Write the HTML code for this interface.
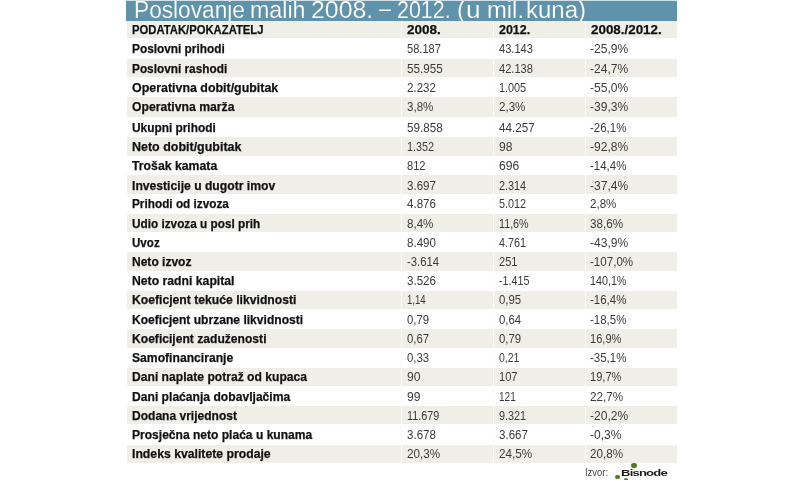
<!DOCTYPE html><html lang="hr"><head><meta charset="utf-8"><title>Poslovanje malih 2008. – 2012.</title><style>
html,body{margin:0;padding:0;background:#fff;overflow:hidden}
#wrap{position:relative;width:800px;height:480px;overflow:hidden;background:#fff;font-family:"Liberation Sans",sans-serif}
.title{position:absolute;left:126px;top:0;width:551px;height:21px;background:#5f92ab;border-top:1px solid #d3e2e9;box-sizing:border-box;overflow:hidden}
.title span{position:absolute;top:-4.2px;-webkit-text-stroke:0.15px #5f92ab;font-size:23px;line-height:26px;color:#fff;white-space:nowrap;transform-origin:0 50%;transform:scaleX(0.9944);letter-spacing:0}
.band{position:absolute;left:127px;width:550px;background:#f0efe7}
.sep{position:absolute;top:21px;height:442px;width:1px;background:#fbfbf8}
.row{position:absolute;left:0;width:800px;height:16px;line-height:16px;white-space:nowrap}
.row span{position:absolute;top:0;transform-origin:0 50%;white-space:pre}
.l{left:131.8px;font-weight:bold;font-size:12.6px;color:#111;-webkit-text-stroke:0.25px #111}
.v{font-size:13.5px;color:#3a3a3a;transform:scaleX(0.86)}
.h{font-weight:bold;font-size:12.6px;color:#111;-webkit-text-stroke:0.25px #111}
.c1{left:406.9px}.c2{left:498.6px}.c3{left:590.4px}
.src{position:absolute;left:585px;top:464px;font-size:11px;line-height:16px;color:#444;transform-origin:0 50%;transform:scaleX(.855);white-space:nowrap}
.logo{position:absolute;left:620.6px;top:466px;font-size:9.3px;line-height:14px;font-weight:bold;color:#1a1a1a;transform-origin:0 50%;transform:scaleX(1.40);letter-spacing:-0.55px;white-space:nowrap}
.dot{position:absolute;border-radius:50%;background:#4f7c1f}
</style></head><body><div id="wrap">
<div class="title"><span style="left:8.03px;transform:scaleX(0.986)">Poslovanje</span> <span style="left:124.23px;transform:scaleX(1.010)">malih</span> <span style="left:184.72px;transform:scaleX(1.080)">2008.</span> <span style="top:-5.7px;left:252.80px;transform:scaleX(0.938)">–</span> <span style="left:271.37px;transform:scaleX(0.931)">2012.</span> <span style="left:330.73px;transform:scaleX(1.067)">(</span><span style="left:340.12px;transform:scaleX(1.140)">u</span> <span style="left:361.23px;transform:scaleX(1.034)">mil.</span> <span style="left:400.21px;transform:scaleX(1.043)">kuna)</span></div>
<div class="band" style="top:21px;height:17px"></div>
<div class="band" style="top:59px;height:18px"></div>
<div class="band" style="top:97px;height:20px"></div>
<div class="band" style="top:137px;height:19px"></div>
<div class="band" style="top:175px;height:19px"></div>
<div class="band" style="top:214px;height:18px"></div>
<div class="band" style="top:252px;height:19px"></div>
<div class="band" style="top:291px;height:18px"></div>
<div class="band" style="top:329px;height:19px"></div>
<div class="band" style="top:368px;height:18px"></div>
<div class="band" style="top:406px;height:18px"></div>
<div class="band" style="top:445px;height:18px"></div>
<div class="sep" style="left:401px"></div>
<div class="sep" style="left:493px"></div>
<div class="sep" style="left:585px"></div>
<div class="row" style="top:22.30px"><span class="l" style="transform:scaleX(0.895)">PODATAK/POKAZATELJ</span><span class="h" style="left:407.3px;transform:scaleX(1.075)">2008.</span><span class="h" style="left:498.8px;transform:scaleX(0.989)">2012.</span><span class="h" style="left:590.8px;transform:scaleX(1.063)">2008./2012.</span></div>
<div class="row" style="top:41.30px"><span class="l" style="transform:scaleX(0.940)">Poslovni prihodi</span><span class="v c1" style="transform:scaleX(0.821)">58.187</span><span class="v c2" style="transform:scaleX(0.821)">43.143</span><span class="v c3" style="transform:scaleX(0.892)">-25,9%</span></div>
<div class="row" style="top:61.30px"><span class="l" style="transform:scaleX(0.938)">Poslovni rashodi</span><span class="v c1" style="transform:scaleX(0.863)">55.955</span><span class="v c2" style="transform:scaleX(0.821)">42.138</span><span class="v c3" style="transform:scaleX(0.892)">-24,7%</span></div>
<div class="row" style="top:80.30px"><span class="l" style="transform:scaleX(0.986)">Operativna dobit/gubitak</span><span class="v c1" style="transform:scaleX(0.855)">2.232</span><span class="v c2" style="transform:scaleX(0.803)">1.005</span><span class="v c3" style="transform:scaleX(0.892)">-55,0%</span></div>
<div class="row" style="top:99.30px"><span class="l" style="transform:scaleX(0.969)">Operativna marža</span><span class="v c1" style="transform:scaleX(0.858)">3,8%</span><span class="v c2" style="transform:scaleX(0.858)">2,3%</span><span class="v c3" style="transform:scaleX(0.892)">-39,3%</span></div>
<div class="row" style="top:120.30px"><span class="l" style="transform:scaleX(0.942)">Ukupni prihodi</span><span class="v c1" style="transform:scaleX(0.863)">59.858</span><span class="v c2" style="transform:scaleX(0.863)">44.257</span><span class="v c3" style="transform:scaleX(0.851)">-26,1%</span></div>
<div class="row" style="top:139.30px"><span class="l" style="transform:scaleX(0.990)">Neto dobit/gubitak</span><span class="v c1" style="transform:scaleX(0.803)">1.352</span><span class="v c2" style="transform:scaleX(0.898)">98</span><span class="v c3" style="transform:scaleX(0.892)">-92,8%</span></div>
<div class="row" style="top:158.30px"><span class="l" style="transform:scaleX(0.974)">Trošak kamata</span><span class="v c1" style="transform:scaleX(0.821)">812</span><span class="v c2" style="transform:scaleX(0.899)">696</span><span class="v c3" style="transform:scaleX(0.851)">-14,4%</span></div>
<div class="row" style="top:178.30px"><span class="l" style="transform:scaleX(0.965)">Investicije u dugotr imov</span><span class="v c1" style="transform:scaleX(0.855)">3.697</span><span class="v c2" style="transform:scaleX(0.803)">2.314</span><span class="v c3" style="transform:scaleX(0.892)">-37,4%</span></div>
<div class="row" style="top:196.30px"><span class="l" style="transform:scaleX(0.936)">Prihodi od izvoza</span><span class="v c1" style="transform:scaleX(0.855)">4.876</span><span class="v c2" style="transform:scaleX(0.803)">5.012</span><span class="v c3" style="transform:scaleX(0.858)">2,8%</span></div>
<div class="row" style="top:216.30px"><span class="l" style="transform:scaleX(0.935)">Udio izvoza u posl prih</span><span class="v c1" style="transform:scaleX(0.858)">8,4%</span><span class="v c2" style="transform:scaleX(0.795)">11,6%</span><span class="v c3" style="transform:scaleX(0.866)">38,6%</span></div>
<div class="row" style="top:235.30px"><span class="l" style="transform:scaleX(0.920)">Uvoz</span><span class="v c1" style="transform:scaleX(0.855)">8.490</span><span class="v c2" style="transform:scaleX(0.803)">4.761</span><span class="v c3" style="transform:scaleX(0.892)">-43,9%</span></div>
<div class="row" style="top:254.30px"><span class="l" style="transform:scaleX(0.955)">Neto izvoz</span><span class="v c1" style="transform:scaleX(0.840)">-3.614</span><span class="v c2" style="transform:scaleX(0.821)">251</span><span class="v c3" style="transform:scaleX(0.858)">-107,0%</span></div>
<div class="row" style="top:273.30px"><span class="l" style="transform:scaleX(0.970)">Neto radni kapital</span><span class="v c1" style="transform:scaleX(0.855)">3.526</span><span class="v c2" style="transform:scaleX(0.794)">-1.415</span><span class="v c3" style="transform:scaleX(0.795)">140,1%</span></div>
<div class="row" style="top:292.30px"><span class="l" style="transform:scaleX(0.967)">Koeficjent tekuće likvidnosti</span><span class="v c1" style="transform:scaleX(0.710)">1,14</span><span class="v c2" style="transform:scaleX(0.843)">0,95</span><span class="v c3" style="transform:scaleX(0.851)">-16,4%</span></div>
<div class="row" style="top:312.30px"><span class="l" style="transform:scaleX(0.959)">Koeficjent ubrzane likvidnosti</span><span class="v c1" style="transform:scaleX(0.843)">0,79</span><span class="v c2" style="transform:scaleX(0.843)">0,64</span><span class="v c3" style="transform:scaleX(0.851)">-18,5%</span></div>
<div class="row" style="top:331.30px"><span class="l" style="transform:scaleX(0.961)">Koeficijent zaduženosti</span><span class="v c1" style="transform:scaleX(0.843)">0,67</span><span class="v c2" style="transform:scaleX(0.843)">0,79</span><span class="v c3" style="transform:scaleX(0.820)">16,9%</span></div>
<div class="row" style="top:350.30px"><span class="l" style="transform:scaleX(0.964)">Samofinanciranje</span><span class="v c1" style="transform:scaleX(0.843)">0,33</span><span class="v c2" style="transform:scaleX(0.776)">0,21</span><span class="v c3" style="transform:scaleX(0.851)">-35,1%</span></div>
<div class="row" style="top:369.30px"><span class="l" style="transform:scaleX(0.962)">Dani naplate potraž od kupaca</span><span class="v c1" style="transform:scaleX(0.898)">90</span><span class="v c2" style="transform:scaleX(0.821)">107</span><span class="v c3" style="transform:scaleX(0.820)">19,7%</span></div>
<div class="row" style="top:389.30px"><span class="l" style="transform:scaleX(0.962)">Dani plaćanja dobavljačima</span><span class="v c1" style="transform:scaleX(0.898)">99</span><span class="v c2" style="transform:scaleX(0.743)">121</span><span class="v c3" style="transform:scaleX(0.866)">22,7%</span></div>
<div class="row" style="top:408.30px"><span class="l" style="transform:scaleX(0.955)">Dodana vrijednost</span><span class="v c1" style="transform:scaleX(0.798)">11.679</span><span class="v c2" style="transform:scaleX(0.803)">9.321</span><span class="v c3" style="transform:scaleX(0.892)">-20,2%</span></div>
<div class="row" style="top:427.30px"><span class="l" style="transform:scaleX(0.957)">Prosječna neto plaća u kunama</span><span class="v c1" style="transform:scaleX(0.855)">3.678</span><span class="v c2" style="transform:scaleX(0.855)">3.667</span><span class="v c3" style="transform:scaleX(0.890)">-0,3%</span></div>
<div class="row" style="top:446.30px"><span class="l" style="transform:scaleX(0.971)">Indeks kvalitete prodaje</span><span class="v c1" style="transform:scaleX(0.866)">20,3%</span><span class="v c2" style="transform:scaleX(0.866)">24,5%</span><span class="v c3" style="transform:scaleX(0.866)">20,8%</span></div>
<div class="src">Izvor:</div><div class="logo">Bisnode</div>
<div class="dot" style="left:631.3px;top:462.5px;width:5.6px;height:5.6px"></div>
<div class="dot" style="left:615.1px;top:474.7px;width:4.6px;height:4.6px"></div>
<div class="dot" style="left:623.6px;top:477.5px;width:4.6px;height:4.6px"></div>
</div></body></html>
